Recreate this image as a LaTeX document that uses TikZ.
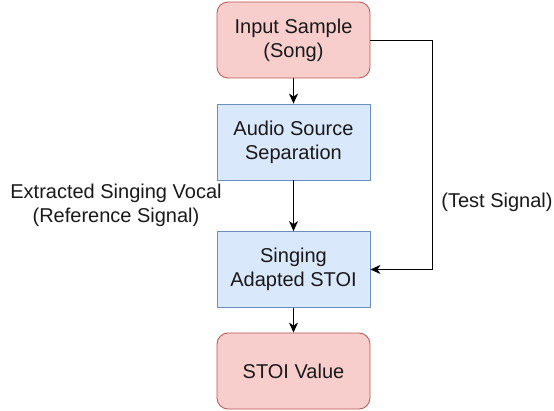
\documentclass[tikz,border=0pt]{standalone}
\usepackage{fontspec}
\setmainfont{Liberation Sans}
\usetikzlibrary{arrows.meta}
\definecolor{redfill}{HTML}{F8CECC}
\definecolor{redline}{HTML}{B85450}
\definecolor{bluefill}{HTML}{DAE8FC}
\definecolor{blueline}{HTML}{6C8EBF}
\begin{document}
\begin{tikzpicture}[x=1pt,y=-1pt,
  base/.style={minimum width=153pt,minimum height=76pt,align=center,font=\fontsize{20pt}{24pt}\selectfont,text=black!90,line width=0.8pt,inner sep=0pt},
  redbox/.style={base,draw=redline,fill=redfill,rounded corners=11pt},
  bluebox/.style={base,draw=blueline,fill=bluefill},
  lbl/.style={align=center,font=\fontsize{20pt}{24.5pt}\selectfont,text=black!90,inner sep=0pt},
  arr/.style={line width=0.9pt,-{Stealth[length=10pt,width=9pt,inset=3pt]}}]
\useasboundingbox (0,0) rectangle (554,411);
\node[redbox] (in) at (293.5,40) {Input Sample\\(Song)};
\node[bluebox] (sep) at (293.5,142) {Audio Source\\Separation};
\node[bluebox] (stoi) at (293.5,269.5) {Singing\\Adapted STOI};
\node[redbox] (val) at (293.5,371) {STOI Value};
\node[lbl] (ref) at (116,205.5) {Extracted Singing Vocal\\(Reference Signal)};
\node[lbl] (test) at (497,202) {(Test Signal)};
\draw[arr] (in) -- (sep);
\draw[arr] (sep) -- (stoi);
\draw[arr] (stoi) -- (val);
\coordinate (turn) at (432,40);
\draw[arr] (in.east) -- (turn) |- (stoi.east);
\end{tikzpicture}
\end{document}
